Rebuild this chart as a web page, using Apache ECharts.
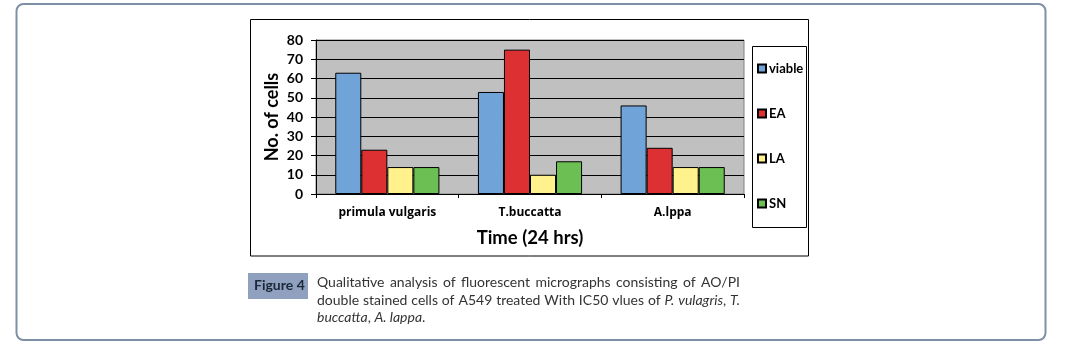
<!DOCTYPE html>
<html><head><meta charset="utf-8">
<script src="https://cdn.jsdelivr.net/npm/echarts@6/dist/echarts.min.js"></script>
<style>html,body{margin:0;padding:0;background:#fff}#c{width:1065px;height:356px}</style>
</head><body><div id="c"></div>
<script>
const categories = ['primula vulgaris', 'T.buccatta', 'A.lppa'];
const viable = [63, 53, 46];
const EA = [23, 75, 24];
const LA = [14, 10, 14];
const SN = [14, 17, 14];
const seriesNames = ['viable', 'EA', 'LA', 'SN'];
const seriesColors = ['#70A3D8', '#DD3033', '#FFF18C', '#6CBF52'];
const yTicks = [0, 10, 20, 30, 40, 50, 60, 70, 80];
const captionLines = [
  [['Qualitative analysis of fluorescent micrographs consisting of AO/PI', false]],
  [['double stained cells of A549 treated With IC50 vlues of ', false], ['P. vulagris', true], [', ', false], ['T.', true]],
  [['buccatta', true], [', ', false], ['A. lappa', true], ['.', false]]
];

const FONT = 'Lato, "Open Sans", sans-serif';
const chart = echarts.init(document.getElementById('c'), null, {renderer: 'canvas'});
const values = [viable, EA, LA, SN];

// caption words justified
const ctx = document.createElement('canvas').getContext('2d');
const capFs = 14;
function measure(t, it) { ctx.font = (it ? 'italic ' : '') + capFs + 'px Lato'; return ctx.measureText(t).width; }
const capLeft = 317, capRight = 740;
const capY = [284, 302, 319];
const capGraphics = [];
captionLines.forEach((segs, li) => {
  const words = [];
  segs.forEach(([t, it]) => {
    t.split(/(\s+)/).forEach(w => { if (w.length) words.push({t: w, it: it, sp: /^\s+$/.test(w)}); });
  });
  const justify = li < captionLines.length - 1;
  let totalW = 0, spaces = 0;
  words.forEach(w => { w.w = measure(w.t, w.it); if (w.sp) spaces++; else totalW += w.w; });
  const spW = justify ? (capRight - capLeft - totalW) / Math.max(spaces, 1) : null;
  let x = capLeft;
  words.forEach(w => {
    if (w.sp) { x += justify ? spW : w.w; return; }
    capGraphics.push({type: 'text', left: x, top: capY[li] - 9, style: {text: w.t, font: (w.it ? 'italic ' : '') + capFs + 'px Lato', fill: '#333'}});
    x += w.w;
  });
});

chart.setOption({
  animation: false,
  backgroundColor: '#fff',
  grid: {left: 316, right: 321, top: 40, bottom: 162, show: true, backgroundColor: '#C0C0C0', borderColor: '#808080', borderWidth: 1},
  legend: {
    data: seriesNames, orient: 'vertical', left: 752, top: 57, itemWidth: 8, itemHeight: 8, itemGap: 32,
    icon: 'rect',
    textStyle: {fontFamily: FONT, fontWeight: 'bold', fontSize: 13, color: '#000', padding: [0, 0, 0, -2]}
  },
  xAxis: {
    type: 'category', data: categories,
    axisLine: {lineStyle: {color: '#000', width: 1}},
    axisTick: {show: true, length: 4, lineStyle: {color: '#000'}},
    axisLabel: {fontFamily: '"Open Sans", Lato, sans-serif', fontWeight: 'bold', fontSize: 12, color: '#000', margin: 13},
    name: 'Time (24 hrs)', nameLocation: 'middle', nameGap: 35,
    nameTextStyle: {fontFamily: FONT, fontWeight: 'bold', fontSize: 18.5, color: '#000'}
  },
  yAxis: {
    type: 'value', min: yTicks[0], max: yTicks[yTicks.length - 1], interval: yTicks[1] - yTicks[0],
    axisLine: {show: true, lineStyle: {color: '#000', width: 1}},
    axisTick: {show: true, length: 5, lineStyle: {color: '#000'}},
    splitLine: {show: true, lineStyle: {color: '#000', width: 1}},
    axisLabel: {fontFamily: FONT, fontWeight: 'bold', fontSize: 14, color: '#000', margin: 13},
    name: 'No. of cells', nameLocation: 'middle', nameGap: 35,
    nameTextStyle: {fontFamily: FONT, fontWeight: 'bold', fontSize: 18, color: '#000'}
  },
  series: seriesNames.map((n, i) => ({
    name: n, type: 'bar', data: values[i], barGap: '0%', barCategoryGap: '27%',
    itemStyle: {color: seriesColors[i], borderColor: '#000', borderWidth: 1}
  })),
  graphic: [
    {type: 'rect', shape: {x: 16.5, y: 4, width: 1029, height: 336, r: 7}, style: {fill: 'none', stroke: '#7F90A6', lineWidth: 2}, z: 0},
    {type: 'rect', shape: {x: 250.5, y: 19.5, width: 558, height: 236.5}, style: {fill: 'none', stroke: '#000', lineWidth: 1}, z: 0},
    {type: 'rect', shape: {x: 752.5, y: 46.5, width: 54, height: 181}, style: {fill: 'none', stroke: '#000', lineWidth: 1}, z: 0},
    {type: 'rect', shape: {x: 248, y: 273, width: 60, height: 26}, style: {fill: '#8FA1BE'}, z: 0},
    {type: 'text', left: 254, top: 278, style: {text: 'Figure 4', font: 'bold 14px Lato', fill: '#1B2838'}, z: 1}
  ].concat(capGraphics)
});
</script>
</body></html>
